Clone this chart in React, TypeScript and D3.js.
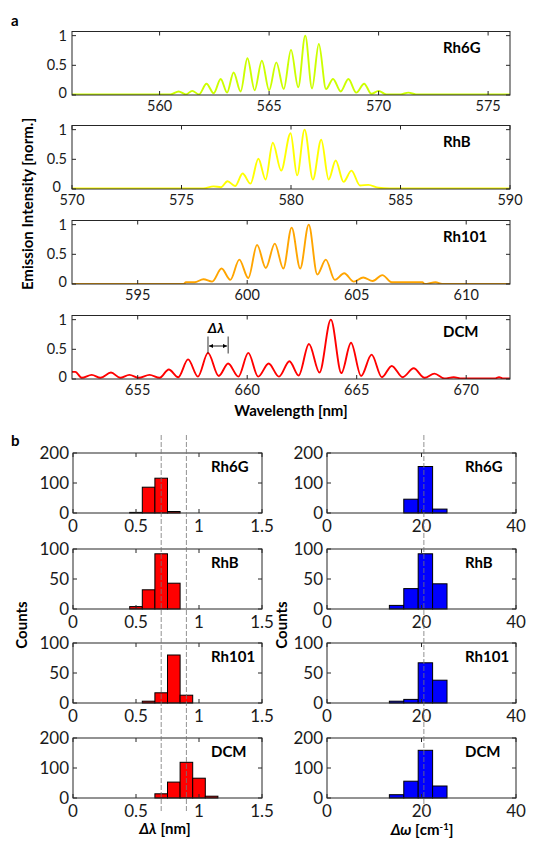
import React from 'react';
import * as d3 from 'd3';

// ---------- DATA ----------
// Spectra: [wavelength nm, normalised intensity] read off peaks and valleys
const rh6gSpectrum: [number, number][] = [
  [556, 0.01], [560.5, 0.01], [560.87, 0.06], [561.2, 0.01], [561.49, 0.07], [561.8, 0.01],
  [562.14, 0.19], [562.47, 0.03], [562.79, 0.27], [563.08, 0.04], [563.38, 0.38], [563.7, 0.06],
  [564.01, 0.62], [564.34, 0.08], [564.67, 0.58], [565.0, 0.08], [565.33, 0.55], [565.67, 0.1],
  [566.0, 0.76], [566.33, 0.13], [566.65, 1.0], [566.96, 0.11], [567.27, 0.86], [567.6, 0.1],
  [567.92, 0.27], [568.27, 0.06], [568.62, 0.27], [568.98, 0.04], [569.34, 0.19], [569.67, 0.02],
  [570.0, 0.07], [570.35, 0.01], [571.0, 0.01], [571.36, 0.04], [571.7, 0.01], [576, 0.01],
];
const rhbSpectrum: [number, number][] = [
  [570, 0.01], [576.0, 0.01], [576.46, 0.045], [576.8, 0.03], [577.1, 0.13], [577.45, 0.05],
  [577.79, 0.26], [578.15, 0.09], [578.51, 0.51], [578.84, 0.16], [579.17, 0.78], [579.55, 0.31],
  [579.98, 0.94], [580.28, 0.23], [580.62, 1.0], [581.0, 0.16], [581.38, 0.83], [581.72, 0.16],
  [582.04, 0.48], [582.4, 0.12], [582.76, 0.31], [583.15, 0.06], [583.53, 0.07], [584.0, 0.02],
  [584.5, 0.01], [590, 0.01],
];
const rh101Spectrum: [number, number][] = [
  [592, 0.0], [597.1, 0.0], [597.2, 0.03], [597.6, 0.03], [598.0, 0.08], [598.4, 0.04],
  [598.83, 0.26], [599.23, 0.07], [599.64, 0.41], [600.05, 0.1], [600.45, 0.66], [600.85, 0.27],
  [601.26, 0.68], [601.65, 0.26], [602.03, 0.95], [602.42, 0.26], [602.81, 1.0], [603.2, 0.16],
  [603.59, 0.41], [604.0, 0.07], [604.43, 0.18], [604.87, 0.04], [605.3, 0.11], [605.73, 0.05],
  [606.17, 0.15], [606.6, 0.03], [608.0, 0.03], [608.1, 0.0], [608.6, 0.03], [608.9, 0.0], [612, 0.0],
];
const dcmSpectrum: [number, number][] = [
  [652, 0.12], [652.15, 0.12], [652.45, 0.02], [652.9, 0.07], [653.3, 0.02], [653.78, 0.11],
  [654.2, 0.02], [654.62, 0.07], [655.05, 0.02], [655.54, 0.07], [656.0, 0.02], [656.42, 0.16],
  [656.85, 0.03], [657.3, 0.33], [657.75, 0.04], [658.21, 0.44], [658.7, 0.05], [659.13, 0.26],
  [659.6, 0.04], [660.05, 0.44], [660.5, 0.04], [660.98, 0.26], [661.45, 0.04], [661.93, 0.3],
  [662.35, 0.06], [662.82, 0.59], [663.3, 0.11], [663.82, 1.0], [664.3, 0.1], [664.74, 0.61],
  [665.2, 0.05], [665.68, 0.41], [666.15, 0.03], [666.6, 0.22], [667.1, 0.03], [667.6, 0.18],
  [668.1, 0.02], [668.55, 0.09], [669.0, 0.01], [669.43, 0.03], [669.8, 0.01], [671.3, 0.01],
  [671.5, 0.03], [671.7, 0.01], [672, 0.01],
];

const dyeNames = ['Rh6G', 'RhB', 'Rh101', 'DCM'];
const dyeColors = ['#ccff00', '#ffff00', '#ffa500', '#ff0000'];
const spectra = [rh6gSpectrum, rhbSpectrum, rh101Spectrum, dcmSpectrum];
const wlDomains: [number, number][] = [[556, 576], [570, 590], [592, 612], [652, 672]];
const wlTicks = [[560, 565, 570, 575], [570, 575, 580, 585, 590], [595, 600, 605, 610], [655, 660, 665, 670]];
const intensityTicks = [0, 0.5, 1];
const deltaLambdaPeaks = [658.21, 659.13];

// Histograms of Δλ (nm): bin start, bin width, counts
const dlBinWidth = 0.1;
const dlStarts = [0.45, 0.45, 0.55, 0.65];
const dlCounts = [
  [2, 86, 116, 5],
  [4, 32, 92, 43],
  [3, 17, 80, 13],
  [14, 53, 119, 66, 6],
];
// Histograms of Δω (cm^-1)
const dwBinWidth = 3.05;
const dwStarts = [16.25, 13.2, 13.2, 13.2];
const dwCounts = [
  [46, 155, 13],
  [6, 34, 92, 42],
  [3, 6, 67, 38],
  [11, 56, 159, 40],
];
const countMax = [200, 100, 100, 200];
const countTicks = [[0, 100, 200], [0, 50, 100], [0, 50, 100], [0, 100, 200]];
const dlTicks = [0, 0.5, 1, 1.5];
const dwTicks = [0, 20, 40];
const dlRefLines = [0.7, 0.9];
const dwRefLines = [20.5];

// ---------- LAYOUT ----------
const FONT = 'Lato, "Open Sans", sans-serif';
const AX = '#262626';
const TXT = '#1a1a1a';
const specX0 = 72, specX1 = 510;
const specBottoms = [95, 189, 284, 379];
const specH = 63.5;
const histTops = [453, 549, 643, 738];
const histH = 60;
const leftX: [number, number] = [73, 262];
const rightX: [number, number] = [327, 516];

function SpecPanel({ i }: { i: number }) {
  const bottom = specBottoms[i];
  const top = bottom - specH;
  const x = d3.scaleLinear().domain(wlDomains[i]).range([specX0, specX1]);
  const y = d3.scaleLinear().domain([0, 1.07]).range([bottom, top]);
  const line = d3.line<[number, number]>().x(d => x(d[0])).y(d => y(d[1])).curve(d3.curveMonotoneX);
  const clipId = `clip-spec-${i}`;
  const tickAtEdge = wlTicks[i][0] === wlDomains[i][0];
  return (
    <g>
      <clipPath id={clipId}>
        <rect x={specX0} y={top} width={specX1 - specX0} height={specH} />
      </clipPath>
      <path d={line(spectra[i]) || ''} fill="none" stroke={dyeColors[i]} strokeWidth={1.9} clipPath={`url(#${clipId})`} strokeLinejoin="round" />
      <rect x={specX0} y={top} width={specX1 - specX0} height={specH} fill="none" stroke={AX} strokeWidth={1} />
      {wlTicks[i].map(t => (
        <g key={t}>
          <line x1={x(t)} x2={x(t)} y1={bottom} y2={bottom - 4} stroke={AX} />
          <line x1={x(t)} x2={x(t)} y1={top} y2={top + 4} stroke={AX} />
          <text x={x(t)} y={bottom + 15.5} textAnchor="middle" fontSize={14.5} fill={TXT} fontFamily={FONT}>{t}</text>
        </g>
      ))}
      {intensityTicks.map(t => (
        <g key={t}>
          <line x1={specX0} x2={specX0 + 4} y1={y(t)} y2={y(t)} stroke={AX} />
          <line x1={specX1} x2={specX1 - 4} y1={y(t)} y2={y(t)} stroke={AX} />
          <text x={specX0 - (t === 0 && tickAtEdge ? 11 : 5)} y={y(t) - (t === 0 ? 2.5 : 0)} dy="0.35em" textAnchor="end" fontSize={14.5} fill={TXT} fontFamily={FONT}>{t}</text>
        </g>
      ))}
      <text x={443} y={top + 21.5} fontSize={15} fontWeight="bold" fontFamily={FONT} fill="#000">{dyeNames[i]}</text>
      {i === 3 && (
        <g>
          <text x={(x(deltaLambdaPeaks[0]) + x(deltaLambdaPeaks[1])) / 2 - 2} y={top + 17} textAnchor="middle" fontSize={14} fontWeight="bold" fontStyle="italic" fontFamily={FONT}>Δλ</text>
          <line x1={x(deltaLambdaPeaks[0])} x2={x(deltaLambdaPeaks[0])} y1={top + 21} y2={top + 38} stroke="#000" strokeWidth={0.8} />
          <line x1={x(deltaLambdaPeaks[1])} x2={x(deltaLambdaPeaks[1])} y1={top + 21} y2={top + 38} stroke="#000" strokeWidth={0.8} />
          <line x1={x(deltaLambdaPeaks[0]) + 1} x2={x(deltaLambdaPeaks[1]) - 1} y1={top + 30.5} y2={top + 30.5} stroke="#000" strokeWidth={0.9} markerStart="url(#arrowL)" markerEnd="url(#arrowR)" />
        </g>
      )}
    </g>
  );
}

function HistPanel({ i, side }: { i: number; side: 'l' | 'r' }) {
  const top = histTops[i];
  const bottom = top + histH;
  const range = side === 'l' ? leftX : rightX;
  const x = d3.scaleLinear().domain(side === 'l' ? [0, 1.5] : [0, 40]).range(range);
  const y = d3.scaleLinear().domain([0, countMax[i]]).range([bottom, top]);
  const counts = side === 'l' ? dlCounts[i] : dwCounts[i];
  const start = side === 'l' ? dlStarts[i] : dwStarts[i];
  const w = side === 'l' ? dlBinWidth : dwBinWidth;
  const ticks = side === 'l' ? dlTicks : dwTicks;
  const fill = side === 'l' ? '#ff0000' : '#0000ff';
  return (
    <g>
      {counts.map((c, k) => {
        const a = start + k * w;
        return <rect key={k} x={x(a)} y={y(c)} width={x(a + w) - x(a)} height={bottom - y(c)} fill={fill} stroke="#000" strokeWidth={1} />;
      })}
      <rect x={range[0]} y={top} width={range[1] - range[0]} height={histH} fill="none" stroke={AX} strokeWidth={1} />
      {ticks.map(t => (
        <g key={t}>
          <line x1={x(t)} x2={x(t)} y1={bottom} y2={bottom - 4} stroke={AX} />
          <line x1={x(t)} x2={x(t)} y1={top} y2={top + 4} stroke={AX} />
          <text x={x(t)} y={bottom + 18.5} textAnchor="middle" fontSize={17} fill={TXT} fontFamily={FONT}>{t}</text>
        </g>
      ))}
      {countTicks[i].map(t => (
        <g key={t}>
          <line x1={range[0]} x2={range[0] + 4} y1={y(t)} y2={y(t)} stroke={AX} />
          <line x1={range[1]} x2={range[1] - 4} y1={y(t)} y2={y(t)} stroke={AX} />
          <text x={range[0] - 4} y={y(t)} dy="0.36em" textAnchor="end" fontSize={17} fill={TXT} fontFamily={FONT}>{t}</text>
        </g>
      ))}
      <text x={side === 'l' ? 211 : 465} y={top + 19} fontSize={15} fontWeight="bold" fontFamily={FONT} fill="#000">{dyeNames[i]}</text>
    </g>
  );
}

export default function App() {
  const xl = d3.scaleLinear().domain([0, 1.5]).range(leftX);
  const xr = d3.scaleLinear().domain([0, 40]).range(rightX);
  const lineTop = 435, lineBottom = 812;
  return (
    <svg width={533} height={844} style={{ position: 'absolute', left: 0, top: 0, background: '#fff' }} fontFamily={FONT}>
      <defs>
        <marker id="arrowR" viewBox="0 0 10 10" refX="10" refY="5" markerWidth="5" markerHeight="5" orient="auto">
          <path d="M0,0 L10,5 L0,10 z" fill="#000" />
        </marker>
        <marker id="arrowL" viewBox="0 0 10 10" refX="0" refY="5" markerWidth="5" markerHeight="5" orient="auto">
          <path d="M10,0 L0,5 L10,10 z" fill="#000" />
        </marker>
      </defs>
      <rect width={533} height={844} fill="#fff" />
      <text x={11} y={26} fontSize={15} fontWeight="bold">a</text>
      <text x={11} y={446} fontSize={15} fontWeight="bold">b</text>
      {dyeNames.map((_, i) => <SpecPanel key={i} i={i} />)}
      <text x={291} y={416} textAnchor="middle" fontSize={15} fontWeight="bold">Wavelength [nm]</text>
      <text transform="translate(33,204) rotate(-90)" textAnchor="middle" fontSize={15} fontWeight="bold">Emission Intensity [norm.]</text>

      {dyeNames.map((_, i) => <HistPanel key={'l' + i} i={i} side="l" />)}
      {dyeNames.map((_, i) => <HistPanel key={'r' + i} i={i} side="r" />)}
      {dlRefLines.map(v => (
        <line key={v} x1={xl(v)} x2={xl(v)} y1={lineTop} y2={lineBottom} stroke="#777" strokeWidth={1} strokeDasharray="5,2" opacity={0.8} />
      ))}
      {dwRefLines.map(v => (
        <line key={v} x1={xr(v)} x2={xr(v)} y1={lineTop} y2={lineBottom} stroke="#777" strokeWidth={1} strokeDasharray="5,2" opacity={0.8} />
      ))}
      <text transform="translate(27,625) rotate(-90)" textAnchor="middle" fontSize={15} fontWeight="bold">Counts</text>
      <text transform="translate(287,625) rotate(-90)" textAnchor="middle" fontSize={15} fontWeight="bold">Counts</text>
      <text x={165} y={834} textAnchor="middle" fontSize={15} fontWeight="bold">
        <tspan fontStyle="italic">Δλ</tspan> [nm]
      </text>
      <text x={422} y={835} textAnchor="middle" fontSize={15} fontWeight="bold">
        <tspan fontStyle="italic">Δω</tspan> [cm<tspan fontSize={9.5} dy={-5}>-1</tspan><tspan dy={5}>]</tspan>
      </text>
    </svg>
  );
}
